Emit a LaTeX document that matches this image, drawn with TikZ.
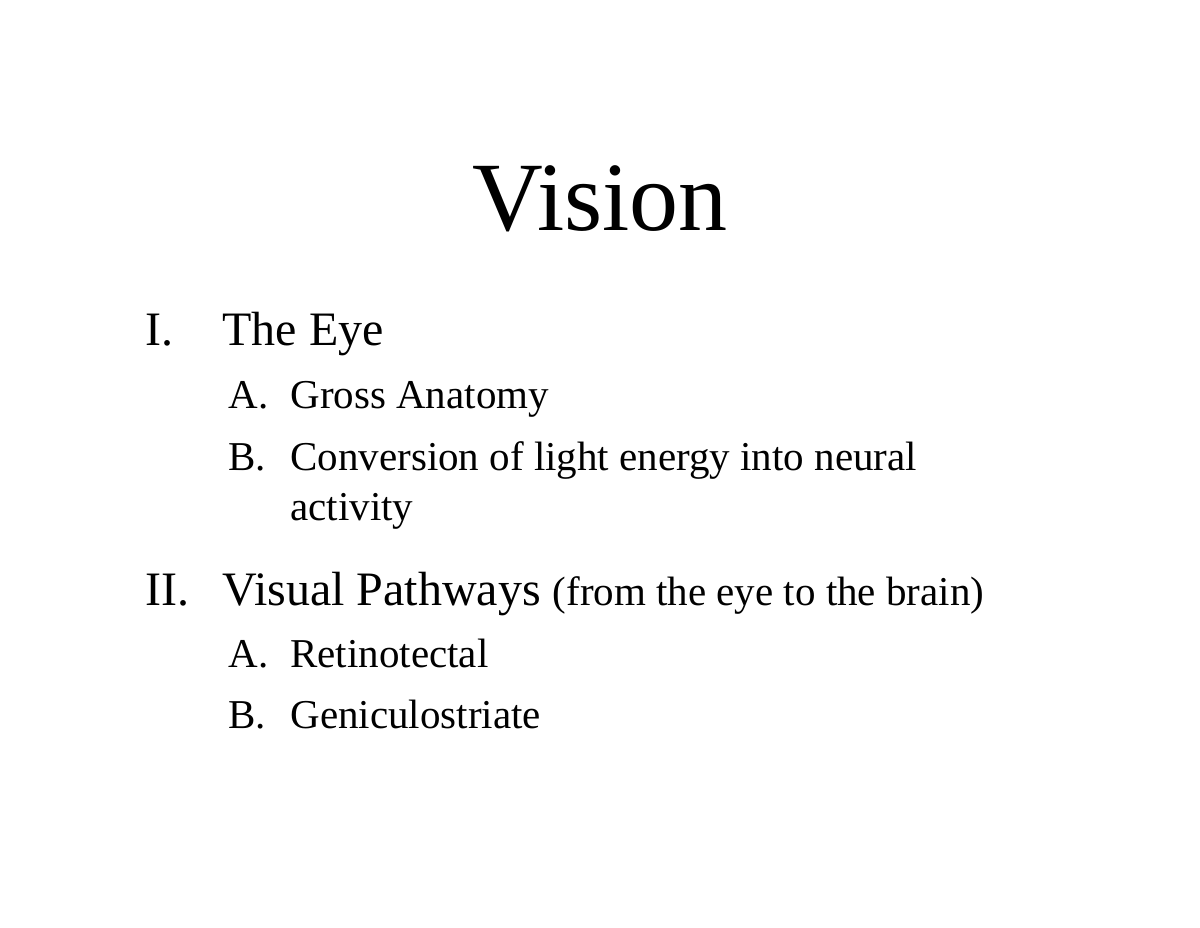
\documentclass[tikz,border=0pt]{standalone}
\usepackage{fontspec}
\setmainfont{Liberation Serif}
\begin{document}
\begin{tikzpicture}[x=0.5pt,y=-0.5pt,
  t/.style={anchor=base west,inner sep=0pt},
  big/.style={font=\fontsize{24}{28}\selectfont},
  sub/.style={font=\fontsize{20.5}{24}\selectfont}]
\useasboundingbox (0,0) rectangle (1200,927);
\node[anchor=base,inner sep=0pt,font=\fontsize{49}{56}\selectfont] (title) at (600,230) {Vision};
\node[t,big] (n1) at (145,345) {I.};
\node[t,big] (n1t) at (222,345) {The Eye};
\node[t,sub] (a1) at (228,408) {A.};
\node[t,sub] (a1t) at (290,408) {Gross Anatomy};
\node[t,sub] (b1) at (228,470) {B.};
\node[t,sub] (b1t) at (290,470) {Conversion of light energy into neural};
\node[t,sub] (b1u) at (290,520) {activity};
\node[t,big] (n2) at (145,605) {II.};
\node[t,big] (n2t) at (222,605) {Visual Pathways {\fontsize{20.5}{24}\selectfont(from the eye to the brain)}};
\node[t,sub] (a2) at (228,667) {A.};
\node[t,sub] (a2t) at (290,667) {Retinotectal};
\node[t,sub] (b2) at (228,728) {B.};
\node[t,sub] (b2t) at (290,728) {Geniculostriate};
\end{tikzpicture}
\end{document}
